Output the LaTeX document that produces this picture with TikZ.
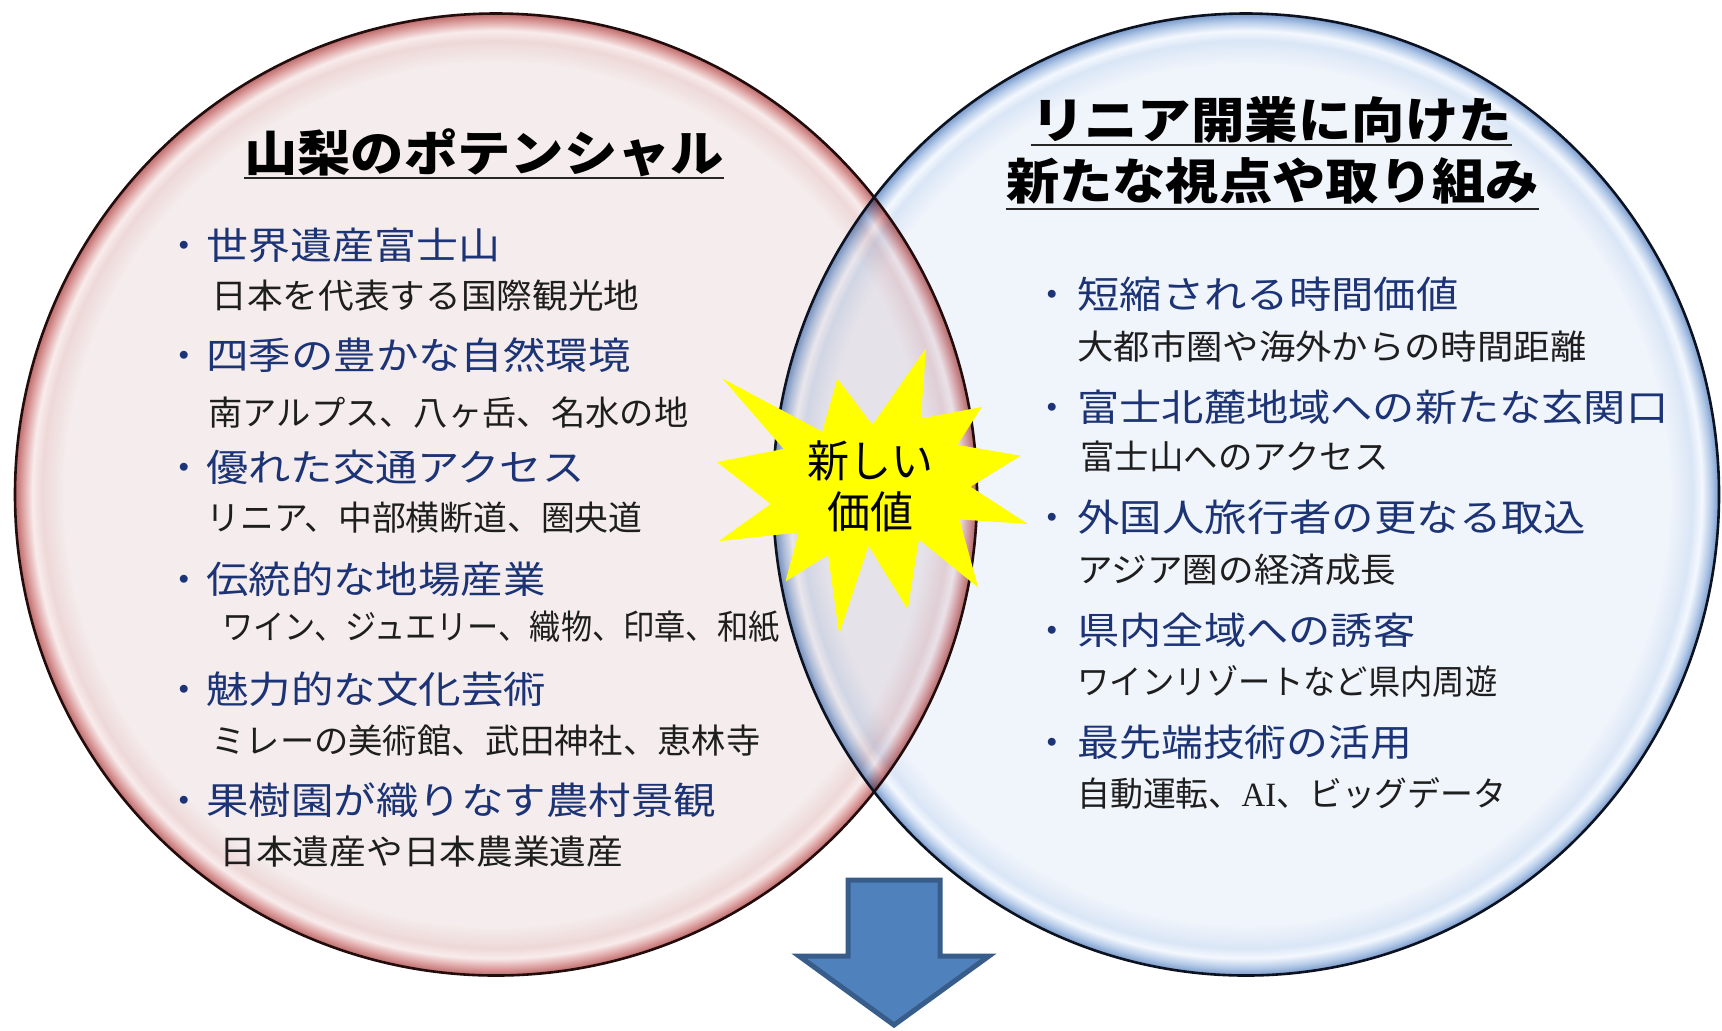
\documentclass[tikz,border=0pt]{standalone}
\usepackage{fontspec}
\usepackage{graphicx}
\newfontfamily\jp{Noto Sans CJK JP}
\newfontfamily\lser{Liberation Serif}

\definecolor{pkin}{RGB}{245,237,237}
\definecolor{pkmid}{RGB}{238,216,216}
\definecolor{pkhi}{RGB}{249,236,236}
\definecolor{pkred1}{RGB}{222,162,162}
\definecolor{pkred2}{RGB}{188,105,105}
\definecolor{blin}{RGB}{240,244,251}
\definecolor{blmid}{RGB}{218,230,246}
\definecolor{blhi}{RGB}{244,248,254}
\definecolor{blred1}{RGB}{180,202,232}
\definecolor{blred2}{RGB}{120,153,203}
\definecolor{itemblue}{RGB}{28,52,118}
\definecolor{subblack}{RGB}{30,30,30}
\definecolor{starY}{RGB}{255,255,0}
\definecolor{arrF}{RGB}{79,129,189}
\definecolor{arrD}{RGB}{56,93,138}

% in a TikZ shade the path edge lies at 25bp
\pgfdeclareradialshading{pinkball}{\pgfpointorigin}{%
 color(0bp)=(pkin); color(22.4bp)=(pkin); color(23.6bp)=(pkmid); color(24.1bp)=(pkhi);
 color(24.6bp)=(pkred1); color(25bp)=(pkred2); color(50bp)=(pkred2)}
\pgfdeclareradialshading{blueball}{\pgfpointorigin}{%
 color(0bp)=(blin); color(22.4bp)=(blin); color(23.6bp)=(blmid); color(24.1bp)=(blhi);
 color(24.6bp)=(blred1); color(25bp)=(blred2); color(50bp)=(blred2)}

\newlength\fitlen
\newcommand\fitto[2]{\settowidth{\fitlen}{#2}\pgfmathsetmacro\fitf{0.5*#1/\fitlen}\scalebox{\fitf}[1]{#2}}

\tikzset{
 blu/.style={anchor=west, inner sep=0pt, font=\jp\fontsize{18.75pt}{20pt}\selectfont, text=itemblue},
 sub/.style={anchor=west, inner sep=0pt, font=\jp\fontsize{17pt}{19pt}\selectfont, text=subblack},
 bul/.style={anchor=base, inner sep=0pt, font=\jp\fontsize{18.75pt}{20pt}\selectfont, text=itemblue},
 head/.style={inner sep=0pt, font=\jp\bfseries\fontsize{24.5pt}{26pt}\selectfont, text=black},
 startext/.style={inner sep=0pt, font=\jp\fontsize{22pt}{24pt}\selectfont, text=black},
 ul/.style={line width=1.4pt, draw=black!85},
 rimL/.style={line width=1.3pt, draw={rgb,255:red,35;green,12;blue,12}},
 rimR/.style={line width=1.3pt, draw={rgb,255:red,12;green,18;blue,32}},
 arrowshape/.style={fill=arrF, draw=arrD, line width=2.5pt, line join=miter},
}

\begin{document}
\begin{tikzpicture}[x=0.5pt,y=-0.5pt]
\useasboundingbox (0,0) rectangle (1722,1030);
\fill[white] (0,0) rectangle (1722,1030);

% circles
\begin{scope}[blend mode=multiply]
\shade[shading=pinkball] (496,494.5) ellipse [x radius=481, y radius=481];
\shade[shading=blueball] (1246,494.5) ellipse [x radius=473, y radius=481];
\end{scope}
\draw[rimL] (496,494.5) ellipse [x radius=481, y radius=481];
\draw[rimR] (1246,494.5) ellipse [x radius=473, y radius=481];

% headings
\node[head] (hL) at (484,153) {\fitto{480}{山梨のポテンシャル}};
\draw[ul] (hL.west |- 0,178) -- (hL.east |- 0,178);
\node[head] (hR1) at (1271.5,119.5) {\fitto{481}{リニア開業に向けた}};
\draw[ul] (hR1.west |- 0,145) -- (hR1.east |- 0,145);
\node[head] (hR2) at (1272.5,181) {\fitto{533}{新たな視点や取り組み}};
\draw[ul] (hR2.west |- 0,209) -- (hR2.east |- 0,209);

% left items
\node[blu] (l1) at (206,245) {\fitto{294}{世界遺産富士山}};
\node[bul] (lb1) at (l1.base -| 184,0) {・};
\node[sub] (l1s) at (211,296) {\fitto{428}{日本を代表する国際観光地}};
\node[blu] (l2) at (206,355) {\fitto{424}{四季の豊かな自然環境}};
\node[bul] (lb2) at (l2.base -| 184,0) {・};
\node[sub] (l2s) at (208,413) {\fitto{480}{南アルプス、八ヶ岳、名水の地}};
\node[blu] (l3) at (206,467) {\fitto{378}{優れた交通アクセス}};
\node[bul] (lb3) at (l3.base -| 184,0) {・};
\node[sub] (l3s) at (206,518) {\fitto{436}{リニア、中部横断道、圏央道}};
\node[blu] (l4) at (206,579) {\fitto{339}{伝統的な地場産業}};
\node[bul] (lb4) at (l4.base -| 184,0) {・};
\node[sub] (l4s) at (222,627) {\fitto{557}{ワイン、ジュエリー、織物、印章、和紙}};
\node[blu] (l5) at (206,689) {\fitto{340}{魅力的な文化芸術}};
\node[bul] (lb5) at (l5.base -| 184,0) {・};
\node[sub] (l5s) at (211,741) {\fitto{549}{ミレーの美術館、武田神社、恵林寺}};
\node[blu] (l6) at (206,800) {\fitto{510}{果樹園が織りなす農村景観}};
\node[bul] (lb6) at (l6.base -| 184,0) {・};
\node[sub] (l6s) at (219,852) {\fitto{404}{日本遺産や日本農業遺産}};

% right items
\node[blu] (r1) at (1077,294) {\fitto{381}{短縮される時間価値}};
\node[bul] (rb1) at (r1.base -| 1052,0) {・};
\node[sub] (r1s) at (1077,347) {\fitto{509}{大都市圏や海外からの時間距離}};
\node[blu] (r2) at (1077,407) {\fitto{591}{富士北麓地域への新たな玄関口}};
\node[bul] (rb2) at (r2.base -| 1052,0) {・};
\node[sub] (r2s) at (1080,457) {\fitto{308}{富士山へのアクセス}};
\node[blu] (r3) at (1077,517) {\fitto{509}{外国人旅行者の更なる取込}};
\node[bul] (rb3) at (r3.base -| 1052,0) {・};
\node[sub] (r3s) at (1077,570) {\fitto{319}{アジア圏の経済成長}};
\node[blu] (r4) at (1077,630) {\fitto{338}{県内全域への誘客}};
\node[bul] (rb4) at (r4.base -| 1052,0) {・};
\node[sub] (r4s) at (1077,681) {\fitto{420}{ワインリゾートなど県内周遊}};
\node[blu] (r5) at (1077,742) {\fitto{335}{最先端技術の活用}};
\node[bul] (rb5) at (r5.base -| 1052,0) {・};
\node[sub] (r5s) at (1077,793) {\fitto{429}{自動運転、{\lser AI}、ビッグデータ}};

% star (explosion)
\fill[starY] (872.5,424.8) -- (926.1,348) -- (920.8,418.5) -- (981.6,407.0) -- (957.5,444.9)
 -- (1020.8,455.7) -- (970.5,486.7) -- (1028,524.0) -- (959.4,519.4) -- (978.3,587.6)
 -- (918.9,539.4) -- (907.7,609.3) -- (868.6,545.8) -- (839.2,634) -- (828.1,554.9)
 -- (785.6,581.3) -- (798.6,532.5) -- (718.9,541.1) -- (770.6,503.9) -- (717,462.1)
 -- (783.6,448.9) -- (722.3,378.4) -- (822.3,431.7) -- (837.3,378.4) -- cycle;
\node[startext] (nv1) at (870,461) {\fitto{126}{新しい}};
\node[startext] (nv2) at (870,512) {\fitto{86}{価値}};

% arrow
\draw[arrowshape] (848,880) -- (940,880) -- (940,956) -- (989,956) -- (894,1025)
 -- (799,956) -- (848,956) -- cycle;
\end{tikzpicture}
\end{document}
